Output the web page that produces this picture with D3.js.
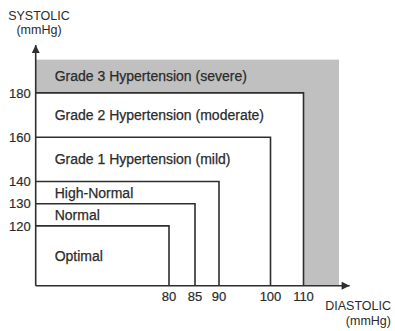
<!DOCTYPE html>
<html>
<head>
<meta charset="utf-8">
<script src="https://cdn.jsdelivr.net/npm/d3@7"></script>
<style>
  body { margin: 0; background: #fff; }
  text { font-family: "Liberation Sans", Arial, sans-serif; fill: #2b2b2b; }
</style>
</head>
<body>
<div id="chart"></div>
<script>
// blood pressure classes, innermost first
var categories = ["Optimal", "Normal", "High-Normal",
  "Grade 1 Hypertension (mild)", "Grade 2 Hypertension (moderate)", "Grade 3 Hypertension (severe)"];
// upper bound of each class (grade 3 is open ended, drawn out to the shaded edge)
var systolic = [120, 130, 140, 160, 180, 195];
var diastolic = [80, 85, 90, 100, 110, 120];
var systolicTicks = [120, 130, 140, 160, 180];
var diastolicTicks = [80, 85, 90, 100, 110];

var width = 395, height = 331;
var svg = d3.select("#chart").append("svg")
  .attr("width", width)
  .attr("height", height);

// the original drawing is schematic, so the diastolic axis is piecewise
var x = d3.scaleLinear()
  .domain([50, 80, 85, 90, 100, 110, 120])
  .range([35.7, 169, 195, 219, 270.5, 303.5, 339]);
var y = d3.scaleLinear()
  .domain([93, 201.6])
  .range([285.7, 45]);

var x0 = x.range()[0], y0 = y.range()[0];
var ink = "#2e2e2e";

// shaded grade 3 area
svg.append("rect")
  .attr("x", x0)
  .attr("y", y(systolic[5]))
  .attr("width", x(diastolic[5]) - x0)
  .attr("height", y0 - y(systolic[5]))
  .attr("fill", "#c0c0c0");

// white grade 2 block covering the inner part
svg.append("rect")
  .attr("x", x0)
  .attr("y", y(systolic[4]))
  .attr("width", x(diastolic[4]) - x0)
  .attr("height", y0 - y(systolic[4]))
  .attr("fill", "#fff");

// class borders: top and right edge of each rectangle
svg.selectAll("path.border")
  .data(d3.range(5))
  .enter().append("path")
  .attr("class", "border")
  .attr("d", function(i){
    return "M" + x0 + "," + y(systolic[i]) +
      "H" + x(diastolic[i]) + "V" + y0;
  })
  .attr("fill", "none")
  .attr("stroke", ink)
  .attr("stroke-width", 1.6);

// class labels
var bandTop = function(i){ return y(systolic[i]); };
var bandBottom = function(i){ return i === 0 ? y0 : y(systolic[i - 1]); };
svg.selectAll("text.cat")
  .data(categories)
  .enter().append("text")
  .attr("class", "cat")
  .attr("x", x0 + 19)
  .attr("y", function(d, i){ return (bandTop(i) + bandBottom(i)) / 2; })
  .attr("dy", "0.36em")
  .style("font-size", "14px")
  .style("stroke", "#2b2b2b")
  .style("stroke-width", "0.25px")
  .text(function(d){ return d; });

// axes lines with arrows
svg.append("defs").append("marker")
  .attr("id", "arrow")
  .attr("viewBox", "0 0 10 10")
  .attr("refX", 10).attr("refY", 5)
  .attr("markerWidth", 10).attr("markerHeight", 8)
  .attr("markerUnits", "userSpaceOnUse")
  .attr("orient", "auto")
  .append("path")
  .attr("d", "M0,0L10,5L0,10z")
  .attr("fill", ink);

svg.append("line")
  .attr("x1", x0).attr("y1", y0)
  .attr("x2", x0).attr("y2", y.range()[1])
  .attr("stroke", ink).attr("stroke-width", 1.6)
  .attr("marker-end", "url(#arrow)");
svg.append("line")
  .attr("x1", x0).attr("y1", y0)
  .attr("x2", x(123)).attr("y2", y0)
  .attr("stroke", ink).attr("stroke-width", 1.6)
  .attr("marker-end", "url(#arrow)");

// tick labels
svg.selectAll("text.ytick")
  .data(systolicTicks)
  .enter().append("text")
  .attr("class", "ytick")
  .attr("x", x0 - 5)
  .attr("y", function(d){ return y(d); })
  .attr("dy", "0.36em")
  .attr("text-anchor", "end")
  .style("font-size", "13px")
  .style("stroke", "#2b2b2b")
  .style("stroke-width", "0.2px")
  .text(function(d){ return d; });

svg.selectAll("text.xtick")
  .data(diastolicTicks)
  .enter().append("text")
  .attr("class", "xtick")
  .attr("x", function(d){ return x(d); })
  .attr("y", y0 + 15)
  .attr("text-anchor", "middle")
  .style("font-size", "13px")
  .style("stroke", "#2b2b2b")
  .style("stroke-width", "0.2px")
  .text(function(d){ return d; });

// axis titles
var yt = svg.append("text")
  .attr("text-anchor", "middle")
  .style("font-size", "12.5px");
yt.append("tspan").attr("x", 39).attr("y", 20).text("SYSTOLIC");
yt.append("tspan").attr("x", 39).attr("y", 34).text("(mmHg)");

var xt = svg.append("text")
  .attr("text-anchor", "end")
  .style("font-size", "12.5px");
xt.append("tspan").attr("x", 391).attr("y", 310).text("DIASTOLIC");
xt.append("tspan").attr("x", 391).attr("y", 324.5).text("(mmHg)");
</script>
</body>
</html>
